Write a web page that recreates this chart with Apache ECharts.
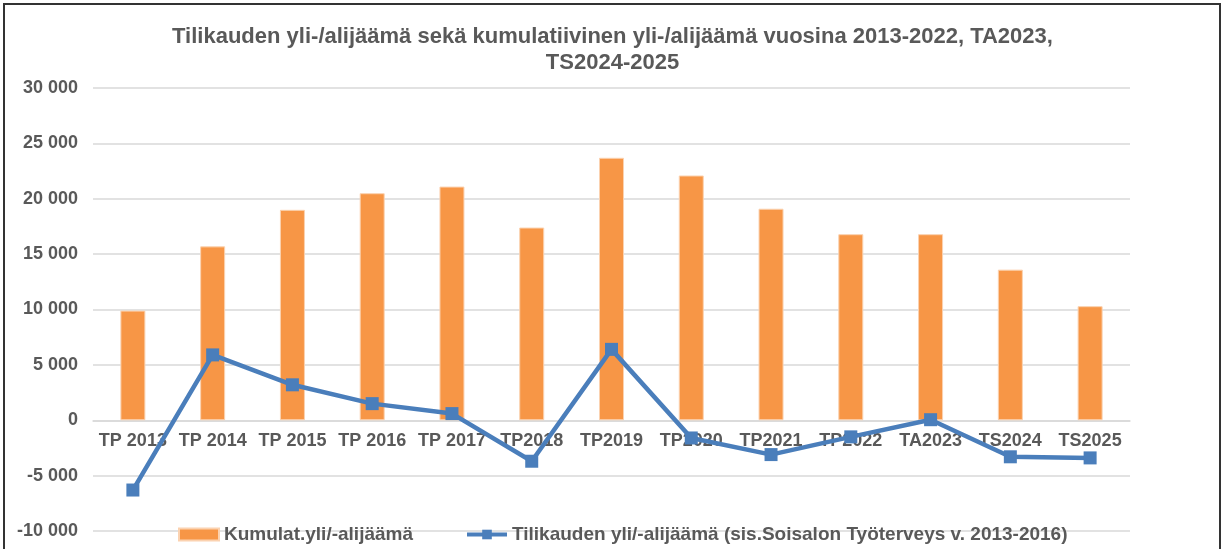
<!DOCTYPE html>
<html>
<head>
<meta charset="utf-8">
<title>Tilikauden yli-/alijäämä</title>
<script src="https://cdn.jsdelivr.net/npm/echarts@6/dist/echarts.min.js"></script>
<style>
  html, body { margin: 0; padding: 0; background: #fff; }
  #chart { width: 1225px; height: 549px; }
</style>
</head>
<body>
<div id="chart"></div>
<script>
// categories
const years = ['TP 2013', 'TP 2014', 'TP 2015', 'TP 2016', 'TP 2017', 'TP2018', 'TP2019',
  'TP2020', 'TP2021', 'TP2022', 'TA2023', 'TS2024', 'TS2025']
// cumulative surplus / deficit (bars)
const kumulat = [9900, 15700, 19000, 20500, 21100, 17400, 23700, 22100, 19100, 16800, 16800, 13600, 10300]
// annual surplus / deficit (line)
const tilikausi = [-6300, 5900, 3200, 1500, 600, -3700, 6400, -1600, -3100, -1500, 50, -3300, -3400]

const seriesNames = ['Kumulat.yli/-alijäämä', 'Tilikauden yli/-alijäämä (sis.Soisalon Työterveys v. 2013-2016)']

const yMin = -10000
const yMax = 30000

const textColor = '#595959'
const fontFamily = '"Liberation Sans", Arial, sans-serif'

const gridTop = 88
const gridBottom = 18
const chartHeight = 549
// category labels sit on the zero line, not at the bottom of the grid
const zeroOffset = (chartHeight - gridTop - gridBottom) * (0 - yMin) / (yMax - yMin)

function fmt(v) {
  // 30000 -> "30 000"
  let s = String(Math.abs(v)).replace(/\B(?=(\d{3})+(?!\d))/g, ' ')
  return (v < 0 ? '-' : '') + s
}

let option = {
  animation: false,
  textStyle: { fontFamily: fontFamily },
  title: {
    text: 'Tilikauden yli-/alijäämä sekä kumulatiivinen yli-/alijäämä vuosina 2013-2022, TA2023,\nTS2024-2025',
    left: 'center',
    top: 19,
    textStyle: {
      color: textColor,
      fontSize: 22,
      fontWeight: 'bold',
      fontFamily: fontFamily,
      lineHeight: 26
    }
  },
  legend: {
    left: 173,
    top: 520,
    itemGap: 52,
    itemWidth: 40,
    itemHeight: 12,
    textStyle: { color: textColor, fontSize: 19, fontWeight: 'bold' },
    data: [
      { name: seriesNames[0], icon: 'rect' },
      { name: seriesNames[1], lineStyle: { width: 4 } }
    ]
  },
  grid: {
    left: 93,
    right: 95,
    top: gridTop,
    bottom: gridBottom,
    containLabel: false,
    outerBoundsMode: 'none'
  },
  xAxis: {
    type: 'category',
    data: years,
    position: 'bottom',
    offset: -zeroOffset,
    axisLine: { onZero: false, lineStyle: { color: '#d9d9d9', width: 1.5 } },
    axisTick: { show: false },
    axisLabel: {
      interval: 0,
      color: textColor,
      fontSize: 18,
      fontWeight: 'bold',
      margin: 12
    }
  },
  yAxis: {
    type: 'value',
    min: yMin,
    max: yMax,
    interval: 5000,
    axisLine: { show: false },
    axisTick: { show: false },
    splitLine: { lineStyle: { color: '#d9d9d9', width: 1.5 } },
    axisLabel: {
      color: textColor,
      fontSize: 18,
      fontWeight: 'bold',
      margin: 15,
      formatter: fmt
    }
  },
  series: [
    {
      name: seriesNames[0],
      type: 'bar',
      data: kumulat,
      barWidth: 25,
      itemStyle: { color: '#f79646', borderColor: '#fbd2b0', borderWidth: 1 },
      z: 2
    },
    {
      name: seriesNames[1],
      type: 'line',
      data: tilikausi,
      symbol: 'rect',
      symbolSize: 13,
      lineStyle: { color: '#4a7ebb', width: 4.5 },
      itemStyle: { color: '#4a7ebb' },
      z: 3
    }
  ],
  graphic: [
    {
      type: 'rect',
      shape: { x: 4, y: 4, width: 1216, height: 600 },
      style: { fill: 'none', stroke: '#333333', lineWidth: 2 },
      silent: true
    }
  ]
}

let myChart = echarts.init(document.getElementById('chart'))
myChart.setOption(option, true)
</script>
</body>
</html>
